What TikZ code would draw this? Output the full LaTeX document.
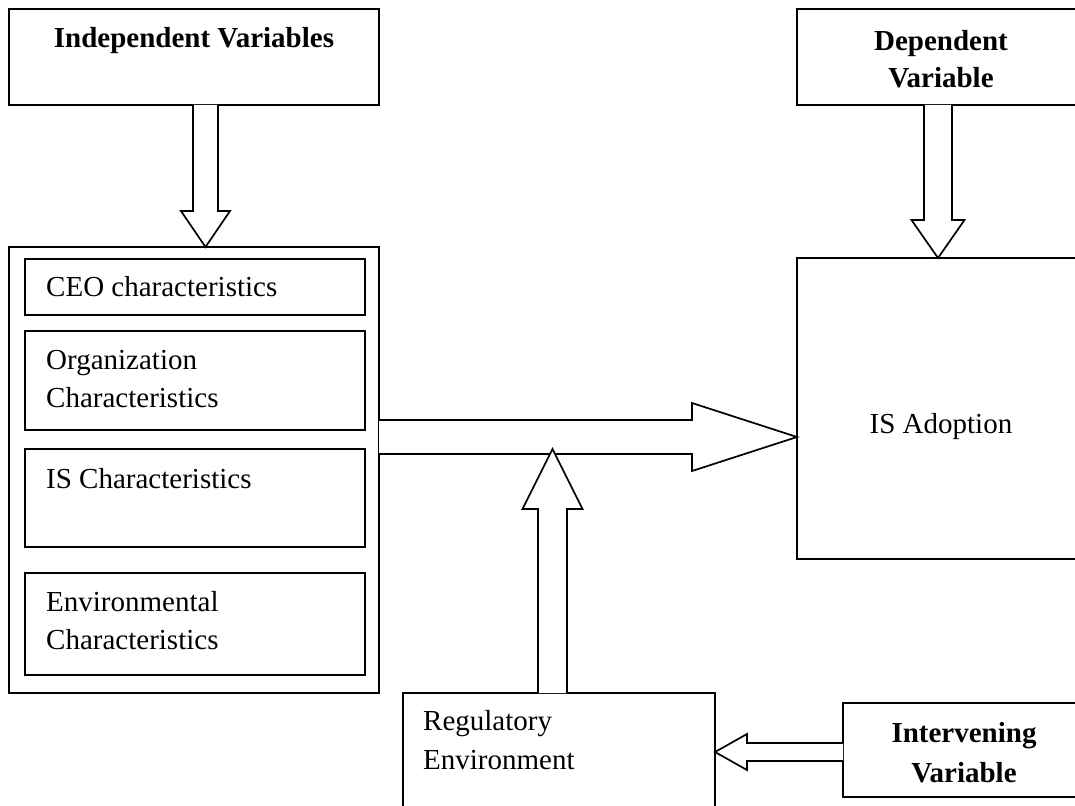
\documentclass[tikz,border=0pt]{standalone}
\usepackage{fontspec}
\setmainfont{Liberation Serif}
\usetikzlibrary{calc}
\begin{document}
\begin{tikzpicture}[x=1pt,y=-1pt,
  box/.style={draw, line width=1.7pt, rectangle, outer sep=0pt, inner sep=0pt, anchor=north west},
  txt/.style={font=\fontsize{29}{38}\selectfont, inner sep=0pt, anchor=base west},
  ttl/.style={font=\fontsize{29}{38}\selectfont\bfseries, inner sep=0pt, anchor=base},
  blk/.style={draw, line width=1.7pt, fill=white, line join=miter}]
\useasboundingbox (0,0) rectangle (1075,805);
\clip (0,0) rectangle (1075,805);
% boxes
\node[box, minimum width=370pt, minimum height=96pt] (indep) at (9,9) {};
\node[box, minimum width=370pt, minimum height=446pt] (outer) at (9,247) {};
\node[box, minimum width=340pt, minimum height=56pt] (ceo) at (25,259) {};
\node[box, minimum width=340pt, minimum height=99pt] (org) at (25,331) {};
\node[box, minimum width=340pt, minimum height=98pt] (isc) at (25,449) {};
\node[box, minimum width=340pt, minimum height=102pt] (env) at (25,573) {};
\node[box, minimum width=288pt, minimum height=96pt] (dep) at (797,9) {};
\node[box, minimum width=288pt, minimum height=301pt] (adopt) at (797,258) {};
\node[box, minimum width=312pt, minimum height=125pt] (reg) at (403,693) {};
\node[box, minimum width=242pt, minimum height=94pt] (interv) at (843,703) {};
% texts
\node[ttl] (tIndep) at (194,48) {Independent Variables};
\node[ttl] (tDep1) at (941,51) {Dependent};
\node[ttl] (tDep2) at (941,88) {Variable};
\node[txt] (tCeo) at (46,296) {CEO characteristics};
\node[txt] (tOrg1) at (46,369) {Organization};
\node[txt] (tOrg2) at (46,407) {Characteristics};
\node[txt] (tIsc) at (46,488) {IS Characteristics};
\node[txt] (tEnv1) at (46,611) {Environmental};
\node[txt] (tEnv2) at (46,649) {Characteristics};
\node[txt, anchor=base] (tAdopt) at (941,433) {IS Adoption};
\node[txt] (tReg1) at (423,730) {Regulatory};
\node[txt] (tReg2) at (423,769) {Environment};
\node[ttl] (tInt1) at (964,742) {Intervening};
\node[ttl] (tInt2) at (964,782) {Variable};
% anchor points of the block arrows
\coordinate (a1s) at ($(indep.south west)+(196.5,0)$);
\coordinate (a1t) at ($(outer.north west)+(196.5,0)$);
\coordinate (a2s) at ($(dep.south west)+(141,0)$);
\coordinate (a2t) at ($(adopt.north west)+(141,0)$);
\coordinate (a3s) at ($(outer.north east)+(0,190)$);
\coordinate (a3t) at ($(adopt.north west)+(0,179)$);
\coordinate (a4s) at ($(reg.north west)+(149.5,0)$);
\coordinate (a4t) at ($(a3s)+(173.5,12)$);
\coordinate (a5s) at ($(interv.north west)+(0,49)$);
\coordinate (a5t) at ($(reg.north east)+(0,59)$);
% block arrows
\draw[blk] ($(a1s)+(-12.5,0)$) -- ($(a1t)+(-12.5,-36)$) -- ($(a1t)+(-24.5,-36)$) -- (a1t)
  -- ($(a1t)+(24.5,-36)$) -- ($(a1t)+(12.5,-36)$) -- ($(a1s)+(12.5,0)$);
\draw[blk] ($(a2s)+(-14,0)$) -- ($(a2t)+(-14,-38)$) -- ($(a2t)+(-26.5,-38)$) -- (a2t)
  -- ($(a2t)+(26.5,-38)$) -- ($(a2t)+(14,-38)$) -- ($(a2s)+(14,0)$);
\draw[blk] ($(a3s)+(0,-17)$) -- ($(a3t)+(-105,-17)$) -- ($(a3t)+(-105,-34)$) -- (a3t)
  -- ($(a3t)+(-105,34)$) -- ($(a3t)+(-105,17)$) -- ($(a3s)+(0,17)$);
\draw[blk] ($(a4s)+(-14.5,0)$) -- ($(a4t)+(-14.5,60)$) -- ($(a4t)+(-30,60)$) -- (a4t)
  -- ($(a4t)+(30,60)$) -- ($(a4t)+(14.5,60)$) -- ($(a4s)+(14.5,0)$);
\draw[blk] ($(a5s)+(0,-9)$) -- ($(a5t)+(32,-9)$) -- ($(a5t)+(32,-18)$) -- (a5t)
  -- ($(a5t)+(32,18)$) -- ($(a5t)+(32,9)$) -- ($(a5s)+(0,9)$);
\end{tikzpicture}
\end{document}
